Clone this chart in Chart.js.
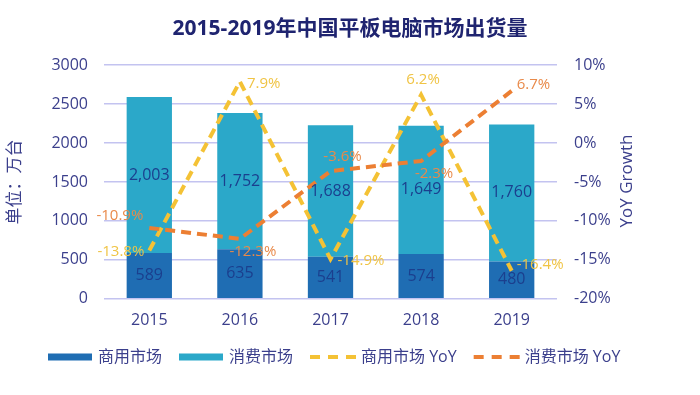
<!DOCTYPE html>
<html>
<head>
<meta charset="utf-8">
<script src="https://cdn.jsdelivr.net/npm/chart.js@4.4.1/dist/chart.umd.min.js"></script>
<style>
  html, body { margin:0; padding:0; background:#fff; }
  #wrap { width:700px; height:395px; }
</style>
</head>
<body>
<div id="wrap"><canvas id="tabletChart"></canvas></div>
<script>
// data
const years = ["2015", "2016", "2017", "2018", "2019"];
const commercial = [589, 635, 541, 574, 480];
const consumer = [2003, 1752, 1688, 1649, 1760];
const commercialYoY = [-13.8, 7.9, -14.9, 6.2, -16.4];
const consumerYoY = [-10.9, -12.3, -3.6, -2.3, 6.7];

const INK = "#3b3f8c";
const FONT = "'Open Sans','Noto Sans CJK SC',sans-serif";
Chart.defaults.font.family = FONT;

// where each YoY label sits next to its point
const commercialYoYAnchor = ["left", "right", "right", "top", "rightup"];
const consumerYoYAnchor = ["topleft", "bottomright", "topright", "bottomright", "rightup"];

const anchorOffset = {
  left:        { dx:-5,  dy:1,   align:"right" },
  right:       { dx:7,   dy:2,   align:"left" },
  rightup:     { dx:5,   dy:-6,  align:"left" },
  top:         { dx:2,   dy:-15, align:"center" },
  topleft:     { dx:-6,  dy:-12, align:"right" },
  topright:    { dx:12,  dy:-14, align:"center" },
  bottomright: { dx:13,  dy:13,  align:"center" }
};

const labelPlugin = {
  id:"valueLabels",
  afterDatasetsDraw(chart) {
    const ctx = chart.ctx;
    ctx.save();
    ctx.textBaseline = "middle";
    chart.data.datasets.forEach((ds, i) => {
      const meta = chart.getDatasetMeta(i);
      meta.data.forEach((el, j) => {
        const v = ds.data[j];
        if (ds.type === "bar") {
          ctx.font = "16px " + FONT;
          ctx.fillStyle = "#1b3f8e";
          ctx.textAlign = "center";
          ctx.fillText(v.toLocaleString("en-US"), el.x, (el.y + el.base) / 2);
        } else {
          const a = anchorOffset[ds.labelAnchor[j]];
          ctx.font = "15px " + FONT;
          ctx.fillStyle = ds.labelColor;
          ctx.textAlign = a.align;
          ctx.fillText(v.toFixed(1) + "%", el.x + a.dx, el.y + a.dy);
        }
      });
    });
    ctx.restore();
  }
};

const extrasPlugin = {
  id:"extras",
  afterDraw(chart) {
    const ctx = chart.ctx;
    ctx.save();
    // right axis title, reads bottom to top
    ctx.translate(627, 181);
    ctx.rotate(-Math.PI / 2);
    ctx.font = "17px " + FONT;
    ctx.fillStyle = INK;
    ctx.textAlign = "center";
    ctx.textBaseline = "middle";
    ctx.fillText("YoY Growth", 0, 0);
    ctx.restore();

    // legend row
    ctx.save();
    const y = 357;
    let x = 48;
    ctx.font = "16px " + FONT;
    ctx.textBaseline = "middle";
    ctx.textAlign = "left";
    chart.data.datasets.forEach(ds => {
      if (ds.type === "line") {
        ctx.strokeStyle = ds.borderColor;
        ctx.lineWidth = 4;
        ctx.setLineDash([10, 8]);
        ctx.beginPath();
        ctx.moveTo(x, y);
        ctx.lineTo(x + 46, y);
        ctx.stroke();
        ctx.setLineDash([]);
        x += 51;
      } else {
        ctx.fillStyle = ds.backgroundColor;
        ctx.fillRect(x, y - 3.5, 44, 7);
        x += 50;
      }
      ctx.fillStyle = INK;
      ctx.fillText(ds.label, x, y);
      x += ctx.measureText(ds.label).width + 17;
    });
    ctx.restore();
  }
};

new Chart(document.getElementById("tabletChart"), {
  data:{
    labels:years,
    datasets:[
      {
        type:"bar",
        label:"商用市场",
        data:commercial,
        backgroundColor:"#1f6db3",
        barPercentage:.5,
        categoryPercentage:1,
        order:2
      },
      {
        type:"bar",
        label:"消费市场",
        data:consumer,
        backgroundColor:"#2ba8c9",
        barPercentage:.5,
        categoryPercentage:1,
        order:2
      },
      {
        type:"line",
        label:"商用市场 YoY",
        data:commercialYoY,
        yAxisID:"y1",
        borderColor:"#f4c235",
        borderWidth:4,
        borderDash:[10, 6],
        pointRadius:0,
        tension:0,
        fill:false,
        order:1,
        labelColor:"#f0c445",
        labelAnchor:commercialYoYAnchor
      },
      {
        type:"line",
        label:"消费市场 YoY",
        data:consumerYoY,
        yAxisID:"y1",
        borderColor:"#ec7f33",
        borderWidth:4,
        borderDash:[10, 6],
        pointRadius:0,
        tension:0,
        fill:false,
        order:0,
        labelColor:"#e98a4a",
        labelAnchor:consumerYoYAnchor
      }
    ]
  },
  options:{
    responsive:true,
    maintainAspectRatio:false,
    animation:false,
    layout:{ padding:{ left:0, right:0, top:0, bottom:53 } },
    plugins:{
      legend:{ display:false },
      tooltip:{ enabled:false },
      title:{
        display:true,
        text:"2015-2019年中国平板电脑市场出货量",
        color:"#1f2470",
        font:{ size:21, weight:"bold" },
        padding:{ top:16, bottom:24 }
      }
    },
    scales:{
      x:{
        stacked:true,
        grid:{ display:false, drawTicks:false },
        border:{ display:false },
        ticks:{ color:INK, font:{ size:16 }, padding:12 }
      },
      y:{
        stacked:true,
        min:0,
        max:3000,
        grid:{ color:"#c3c3f0", lineWidth:1.5, drawTicks:false },
        border:{ display:false },
        ticks:{ stepSize:500, color:INK, font:{ size:16 }, padding:16, callback:v => String(v) },
        title:{
          display:true,
          text:"单位：万台",
          color:INK,
          font:{ size:17 },
          padding:{ top:5, bottom:0 }
        },
        afterFit(s) { s.width = 104; }
      },
      y1:{
        position:"right",
        min:-20,
        max:10,
        grid:{ display:false, drawTicks:false },
        border:{ display:false },
        ticks:{ stepSize:5, color:INK, font:{ size:16 }, padding:17, callback:v => v + "%" },
        afterFit(s) { s.width = 143; }
      }
    }
  },
  plugins:[labelPlugin, extrasPlugin]
});
</script>
</body>
</html>
